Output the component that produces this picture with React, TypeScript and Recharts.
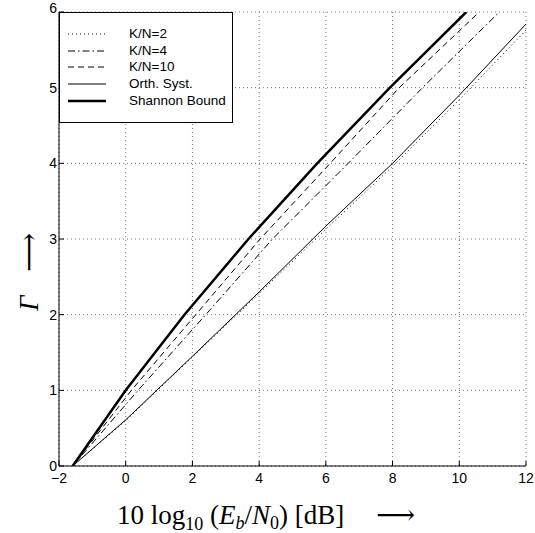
import React from "react";
import {
  LineChart,
  Line,
  XAxis,
  YAxis,
  CartesianGrid,
  Legend,
} from "recharts";

// ---- data ----
const xTicks = [-2, 0, 2, 4, 6, 8, 10, 12];
const yTicks = [0, 1, 2, 3, 4, 5, 6];

const kn2X = [-1.59, 0, 2, 4, 6, 8, 10, 12];
const kn2Y = [0, 0.6, 1.44, 2.28, 3.13, 3.96, 4.84, 5.76];

const kn4X = [-1.59, 0.37, 2.4, 4.4, 6.67, 8.9, 11.2];
const kn4Y = [0, 1, 2, 3, 4, 5, 6];

const kn10X = [-1.59, 0.17, 2.1, 4.03, 6.13, 8.2, 10.6];
const kn10Y = [0, 1, 2, 3, 4, 5, 6];

const orthX = [-1.59, 0, 2, 4, 6, 8, 10, 12];
const orthY = [0, 0.61, 1.45, 2.3, 3.17, 4.0, 4.9, 5.84];

const shannonX = [-1.59, 0, 1.76, 3.68, 5.74, 7.92, 10.21];
const shannonY = [0, 1, 2, 3, 4, 5, 6];

const seriesNames = ["K/N=2", "K/N=4", "K/N=10", "Orth. Syst.", "Shannon Bound"];

const zip = (xs: number[], ys: number[]) => xs.map((x, i) => ({ x, y: ys[i] }));

const series = [
  { name: seriesNames[0], data: zip(kn2X, kn2Y), dash: "1 3", width: 1 },
  { name: seriesNames[1], data: zip(kn4X, kn4Y), dash: "7 3 1.5 3", width: 1 },
  { name: seriesNames[2], data: zip(kn10X, kn10Y), dash: "6 4", width: 1 },
  { name: seriesNames[3], data: zip(orthX, orthY), dash: undefined, width: 1 },
  { name: seriesNames[4], data: zip(shannonX, shannonY), dash: undefined, width: 2.5 },
];

const FONT = "'Liberation Sans', Arial, Helvetica, sans-serif";
const SERIF = "'Liberation Serif', 'DejaVu Serif', serif";

const fmt = (v: number) => (v < 0 ? "\u2212" + Math.abs(v) : String(v));

const XTick = (props: any) => {
  const { x, y, payload } = props;
  const axisY = y - 7;
  return (
    <g>
      <line x1={x} x2={x} y1={axisY} y2={axisY - 5} stroke="#000" strokeWidth={1} />
      <text x={x} y={y} dy="0.72em" textAnchor="middle" fontFamily={FONT} fontSize={14} fill="#000">
        {fmt(payload.value)}
      </text>
    </g>
  );
};

const YTick = (props: any) => {
  const { x, y, payload } = props;
  const axisX = x + 2;
  const shift = payload.value === 6 ? -4 : 0;
  return (
    <g>
      <line x1={axisX} x2={axisX + 5} y1={y} y2={y} stroke="#000" strokeWidth={1} />
      <text x={x} y={y + shift} dy="0.36em" textAnchor="end" fontFamily={FONT} fontSize={14} fill="#000">
        {fmt(payload.value)}
      </text>
    </g>
  );
};

const TopTick = (props: any) => {
  const { x, y } = props;
  return <line x1={x} x2={x} y1={y} y2={y + 5} stroke="#000" strokeWidth={1} />;
};

const RightTick = (props: any) => {
  const { x, y } = props;
  return <line x1={x} x2={x - 5} y1={y} y2={y} stroke="#000" strokeWidth={1} />;
};

const LegendBox = () => (
  <div
    style={{
      position: "relative",
      width: 174,
      height: 111,
      boxSizing: "border-box",
      border: "1px solid #000",
      background: "#fff",
      fontFamily: FONT,
      fontSize: 13.5,
      color: "#000",
    }}
  >
    {series.map((s, i) => (
      <div key={s.name} style={{ position: "absolute", left: 0, top: 12 + i * 16.7, height: 18, width: 172 }}>
        <svg width={50} height={18} style={{ position: "absolute", left: 8, top: 0 }}>
          <line x1={0} x2={38} y1={9} y2={9} stroke="#000" strokeWidth={s.width} strokeDasharray={s.dash} />
        </svg>
        <span style={{ position: "absolute", left: 69, top: 1, lineHeight: "16px", whiteSpace: "nowrap" }}>
          {s.name}
        </span>
      </div>
    ))}
  </div>
);

const XLabel = () => (
  <text x={117} y={524} fontFamily={SERIF} fontSize={27} fill="#000">
    <tspan>10 log</tspan>
    <tspan fontSize={18} dy={6}>10</tspan>
    <tspan dy={-6}> (</tspan>
    <tspan fontStyle="italic">E</tspan>
    <tspan fontSize={18} fontStyle="italic" dy={5}>b</tspan>
    <tspan dy={-5}>/</tspan>
    <tspan fontStyle="italic">N</tspan>
    <tspan fontSize={18} dy={5}>0</tspan>
    <tspan dy={-5}>) [dB]</tspan>
    <tspan dx={32}>{"\u27F6"}</tspan>
  </text>
);

const YLabel = () => (
  <text
    x={0}
    y={0}
    transform="translate(38, 272) rotate(-90)"
    textAnchor="middle"
    fontFamily={SERIF}
    fontSize={27}
    fill="#000"
  >
    <tspan fontStyle="italic">{"\u0393"}</tspan>
    <tspan dx={24}>{"\u27F6"}</tspan>
  </text>
);

export default function App() {
  return (
    <div style={{ position: "absolute", left: 0, top: 0, width: 535, height: 533, background: "#fff" }}>
      <LineChart
        width={535}
        height={533}
        margin={{ top: 12, right: 9, bottom: 0, left: 0 }}
      >
        <CartesianGrid stroke="#777" strokeDasharray="1 3" strokeWidth={1} />
        <XAxis
          dataKey="x"
          type="number"
          domain={[-2, 12]}
          ticks={xTicks}
          allowDataOverflow
          height={67}
          tickSize={0}
          tickMargin={7}
          tickLine={false}
          axisLine={{ stroke: "#000", strokeWidth: 1 }}
          tick={<XTick />}
          interval={0}
          label={{ content: () => <XLabel /> }}
        />
        <XAxis
          xAxisId="top"
          orientation="top"
          dataKey="x"
          type="number"
          domain={[-2, 12]}
          ticks={xTicks}
          allowDataOverflow
          height={0}
          tickSize={0}
          tickMargin={0}
          tickLine={false}
          axisLine={{ stroke: "#000", strokeWidth: 1 }}
          tick={<TopTick />}
          interval={0}
        />
        <YAxis
          type="number"
          domain={[0, 6]}
          ticks={yTicks}
          allowDataOverflow
          width={59}
          tickSize={0}
          tickMargin={2}
          tickLine={false}
          axisLine={{ stroke: "#000", strokeWidth: 1 }}
          tick={<YTick />}
          interval={0}
          label={{ content: () => <YLabel /> }}
        />
        <YAxis
          yAxisId="right"
          orientation="right"
          type="number"
          domain={[0, 6]}
          ticks={yTicks}
          allowDataOverflow
          width={0}
          tickSize={0}
          tickMargin={0}
          tickLine={false}
          axisLine={{ stroke: "#000", strokeWidth: 1 }}
          tick={<RightTick />}
          interval={0}
        />
        {series.map((s) => (
          <Line
            key={s.name}
            data={s.data}
            dataKey="y"
            name={s.name}
            type="linear"
            stroke="#000"
            strokeWidth={s.width}
            strokeDasharray={s.dash}
            dot={false}
            activeDot={false}
            isAnimationActive={false}
          />
        ))}
        <Legend
          layout="vertical"
          align="center"
          verticalAlign="middle"
          wrapperStyle={{ left: 59, top: 12, width: 174, height: 111, right: "auto", bottom: "auto" }}
          content={() => <LegendBox />}
        />
      </LineChart>
    </div>
  );
}
